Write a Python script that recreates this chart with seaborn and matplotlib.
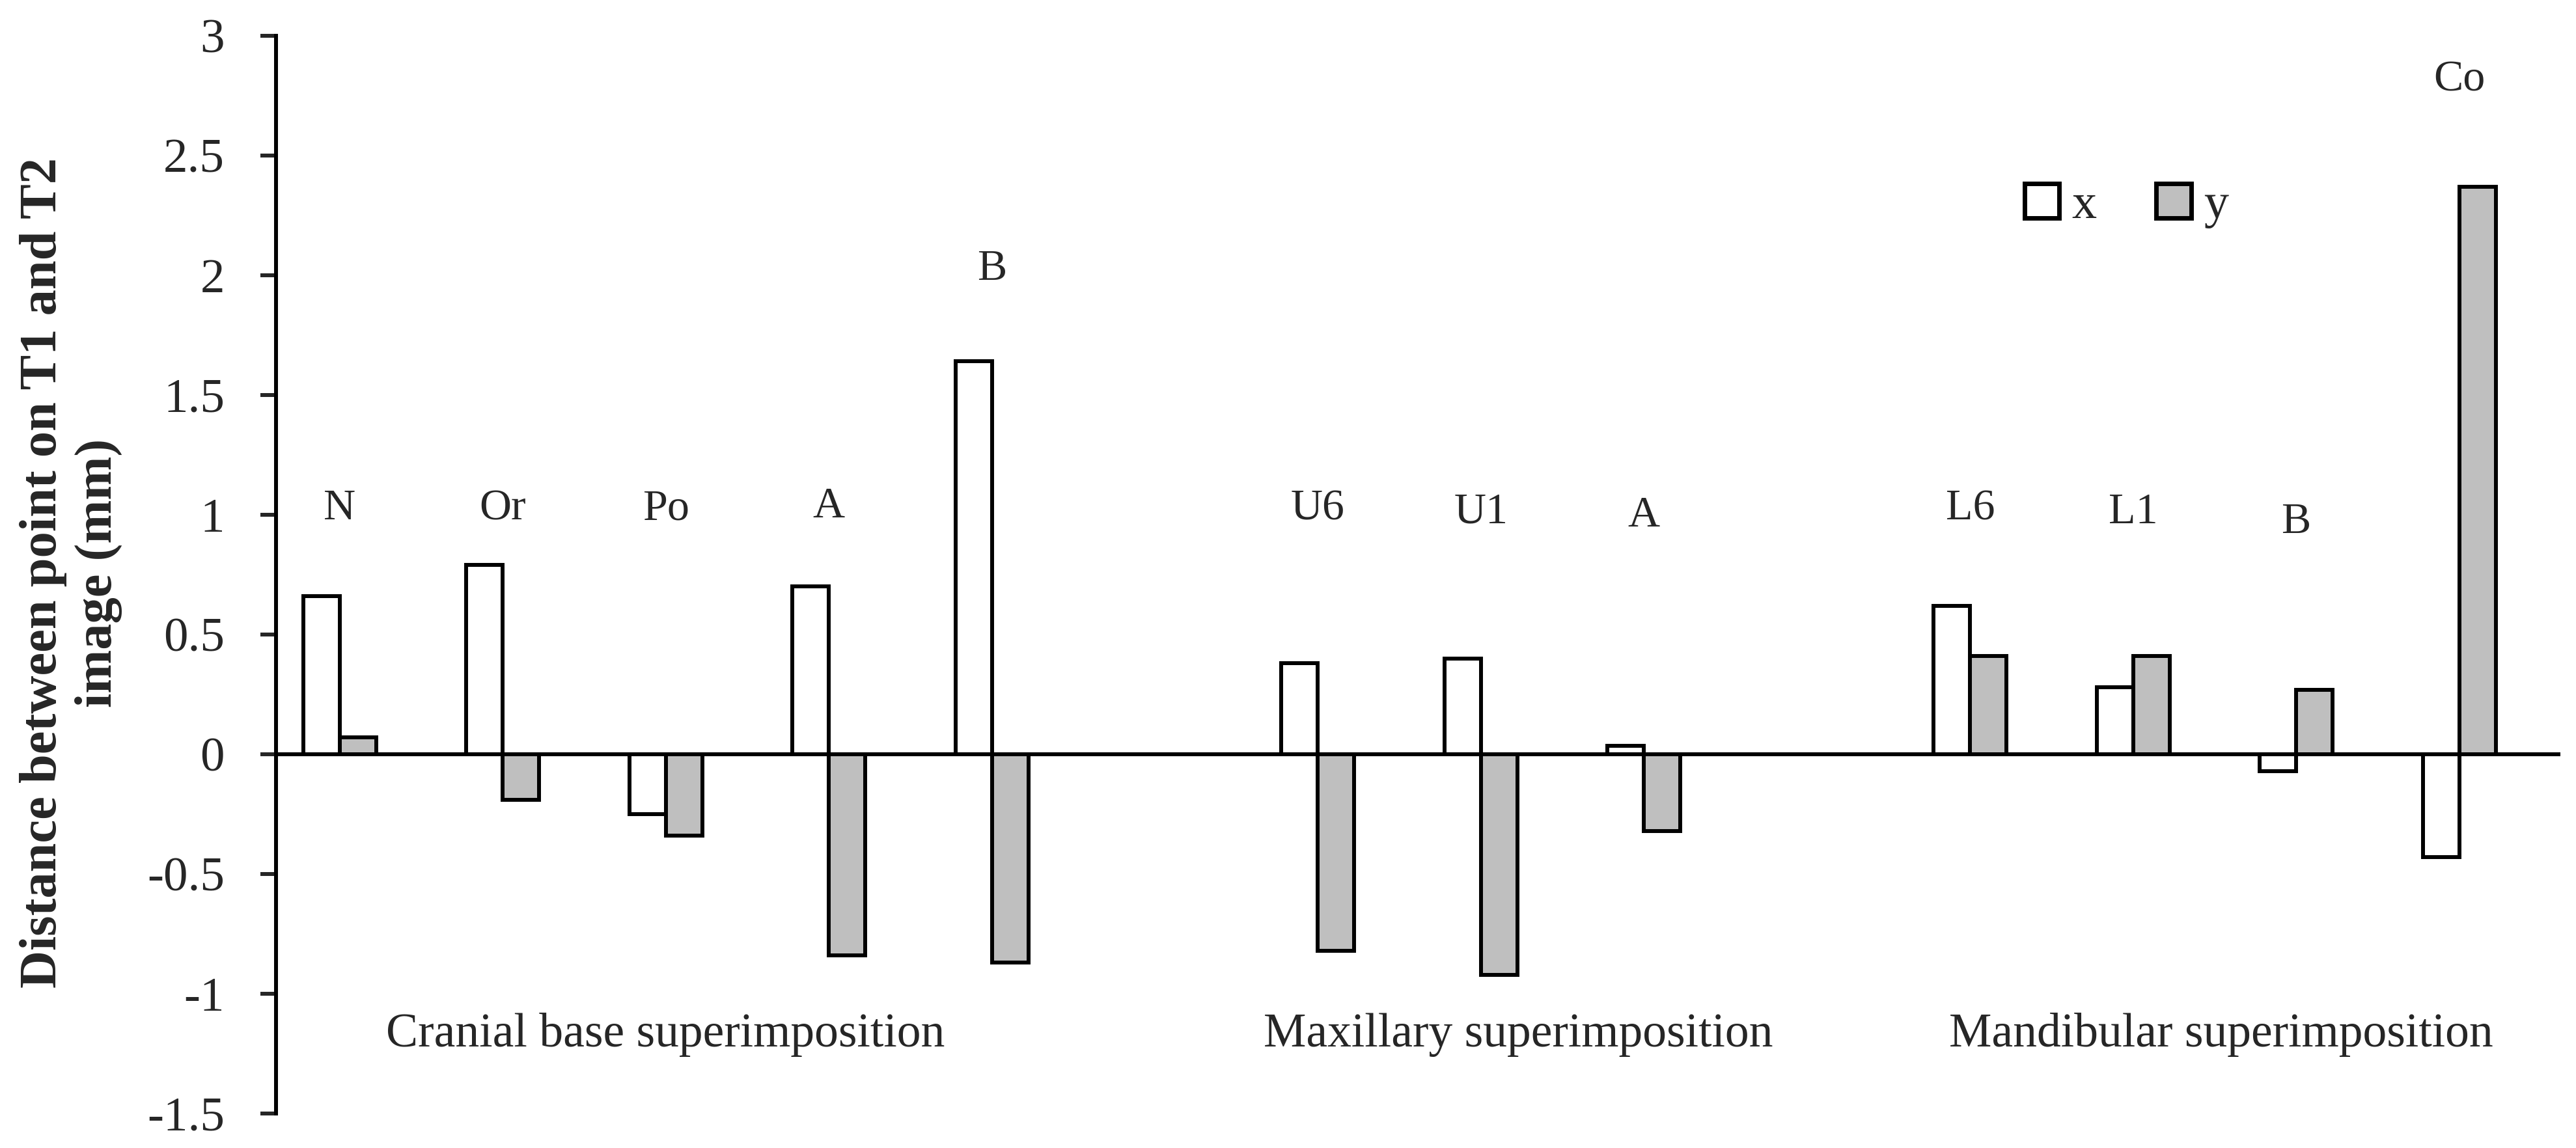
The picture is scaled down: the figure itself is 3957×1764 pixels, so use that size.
import pandas as pd
import matplotlib.pyplot as plt
import seaborn as sns
from matplotlib.patches import Patch

# landmark names and the measured x / y distances (mm)
points = ['N', 'Or', 'Po', 'A', 'B', 'U6', 'U1', 'A', 'L6', 'L1', 'B', 'Co']
slots = ['N', 'Or', 'Po', 'A_cb', 'B_cb', 'U6', 'U1', 'A_mx', 'L6', 'L1', 'B_md', 'Co']
x_vals = [0.66, 0.79, -0.25, 0.70, 1.64, 0.38, 0.40, 0.035, 0.62, 0.28, -0.07, -0.43]
y_vals = [0.07, -0.19, -0.34, -0.84, -0.87, -0.82, -0.92, -0.32, 0.41, 0.41, 0.27, 2.37]

groups = ['Cranial base superimposition', 'Maxillary superimposition',
          'Mandibular superimposition']

# category order with an empty slot between the groups
order = ['N', 'Or', 'Po', 'A_cb', 'B_cb', 'gap1', 'U6', 'U1', 'A_mx',
         'gap2', 'L6', 'L1', 'B_md', 'Co']

yticks = [-1.5, -1, -0.5, 0, 0.5, 1, 1.5, 2, 2.5, 3]
ytick_labels = ['-1.5', '-1', '-0.5', '0', '0.5', '1', '1.5', '2', '2.5', '3']

df = pd.DataFrame({
    'slot': slots * 2,
    'axis': ['x'] * len(slots) + ['y'] * len(slots),
    'value': x_vals + y_vals,
})

sns.set_style('white')
plt.rcParams['font.family'] = ['Liberation Serif', 'DejaVu Serif']

fig = plt.figure(figsize=(39.57, 17.64), dpi=100)
ax = fig.add_axes([0.10715, 0.03005, 0.88678, 0.93877])

colors = {'x': 'white', 'y': '#bfbfbf'}
sns.barplot(data=df, x='slot', y='value', hue='axis', order=order,
            hue_order=['x', 'y'], palette=colors, edgecolor='black',
            linewidth=4.3, width=0.447, legend=False, ax=ax)

ax.axhline(0, color='black', lw=4.3, zorder=5)

ax.set_xlim(-0.39, 13.62)
ax.set_ylim(-1.5, 3)
ax.set_yticks(yticks, ytick_labels)
ax.set_xticks([])
ax.set_xlabel('')
ax.set_ylabel('')
ax.tick_params(axis='y', direction='out', length=17, width=4.3, pad=40,
               labelsize=54, left=True)
for s in ['top', 'right', 'bottom']:
    ax.spines[s].set_visible(False)
ax.spines['left'].set_linewidth(4.3)
ax.spines['left'].set_color('black')

# landmark names above each pair
label_y = [0.98, 0.98, 0.98, 0.99, 1.98, 0.98, 0.965, 0.95, 0.98, 0.965, 0.925, 2.77]
for name, slot, ly in zip(points, slots, label_y):
    ax.text(order.index(slot), ly, name, ha='center', va='baseline', fontsize=49)

# group captions
group_x = [2.0, 7.23, 11.54]
for g, gx in zip(groups, group_x):
    ax.text(gx, -1.22, g, ha='center', va='baseline', fontsize=53)

handles = [Patch(facecolor=colors[k], edgecolor='black', linewidth=5) for k in ['x', 'y']]
ax.legend(handles, ['x', 'y'], loc='center', bbox_to_anchor=(0.81, 0.842),
          ncol=2, frameon=False, fontsize=55, handlelength=0.7,
          handleheight=0.7, handletextpad=0.25, columnspacing=1.2)

fig.text(0.0275, 0.501, 'Distance between point on T1 and T2\nimage (mm)',
         rotation=90, ha='center', va='center', fontsize=58,
         fontweight='bold', linespacing=1.2, multialignment='center')

fig.savefig('out.png', dpi=100, facecolor='white')
